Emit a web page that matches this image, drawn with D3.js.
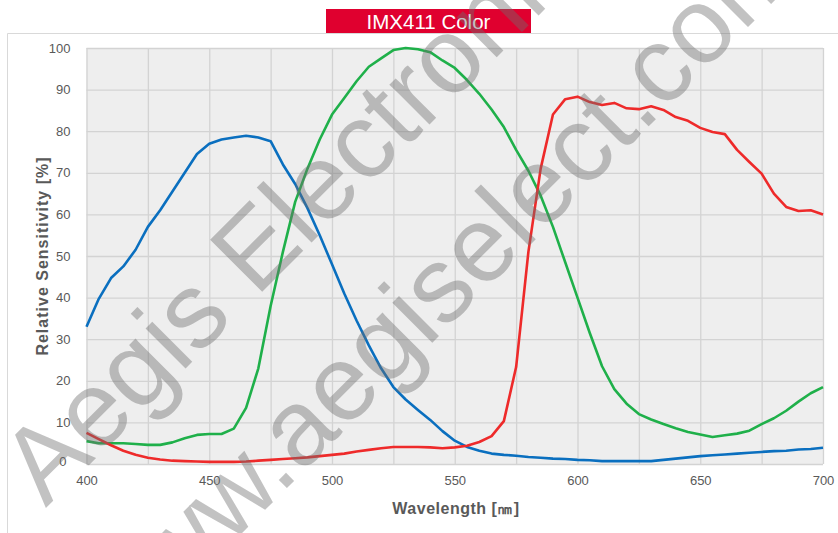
<!DOCTYPE html>
<html>
<head>
<meta charset="utf-8">
<script src="https://cdn.jsdelivr.net/npm/d3@7"></script>
<style>
  body { margin: 0; background: #fff; }
  svg { font-family: "Liberation Sans", Arial, sans-serif; }
</style>
</head>
<body>
<script>
// data, 5 nm steps
const wavelengths = d3.range(400, 701, 5);
const blue = [33, 39.7, 44.7, 47.5, 51.5, 57, 61, 65.5, 70, 74.5, 77, 78, 78.5, 78.9, 78.5, 77.6,
  72, 67.3, 61.5, 55, 48, 41, 34.5, 28.5, 23, 18.5, 15.5, 13, 10.6, 7.9, 5.6, 4.1, 3.2, 2.5, 2.2,
  2.0, 1.7, 1.5, 1.3, 1.2, 1.0, 0.9, 0.7, 0.7, 0.7, 0.7, 0.7, 1.0, 1.3, 1.6, 1.9, 2.1, 2.3, 2.5,
  2.7, 2.9, 3.1, 3.2, 3.5, 3.6, 3.9];
const green = [5.5, 5.0, 5.0, 5.0, 4.8, 4.6, 4.6, 5.2, 6.2, 7.0, 7.2, 7.2, 8.5, 13.5, 23, 38, 51,
  63, 71, 78, 84, 88, 92, 95.5, 97.5, 99.5, 100, 99.7, 99, 97, 95.2, 92.3, 89, 85.2, 81, 75.5,
  70.5, 64.5, 57, 48.5, 40, 31.5, 23.5, 18, 14.5, 12, 10.7, 9.6, 8.6, 7.7, 7.1, 6.5, 6.9, 7.3,
  8, 9.6, 11, 12.8, 15, 17, 18.5];
const red = [7.5, 6, 4.5, 3.2, 2.2, 1.5, 1.1, 0.8, 0.7, 0.6, 0.5, 0.5, 0.5, 0.6, 0.8, 1.0, 1.2,
  1.4, 1.6, 1.9, 2.2, 2.5, 3.0, 3.4, 3.8, 4.1, 4.1, 4.1, 4.0, 3.8, 4.0, 4.4, 5.3, 6.7, 10.3,
  23.3, 51, 71, 84, 87.7, 88.3, 87, 86.3, 86.8, 85.5, 85.3, 86, 85.1, 83.4, 82.5, 80.8, 79.8,
  79.3, 75.5, 72.6, 69.8, 65, 61.8, 60.8, 61, 60];
const xTicks = [400, 450, 500, 550, 600, 650, 700];
const yTicks = [0, 10, 20, 30, 40, 50, 60, 70, 80, 90, 100];

const w = 838;
const h = 533;
const pLeft = 86.5, pRight = 823, pTop = 48, pBottom = 464;

let svg = d3.select("body")
            .append("svg")
            .attr("width", w)
            .attr("height", h);

// outer frame
svg.append("path")
   .attr("d", "M7.5," + (h + 5) + "V33.5H" + (w + 5))
   .attr("fill", "none")
   .attr("stroke", "#d9d9d9");

// title box
svg.append("rect")
   .attr("x", 326).attr("y", 9)
   .attr("width", 205).attr("height", 24)
   .attr("fill", "#e0002f");
svg.append("text")
   .attr("x", 428.5).attr("y", 28.5)
   .attr("text-anchor", "middle")
   .attr("fill", "#fff")
   .style("font-size", "20.5px")
   .text("IMX411 Color");

let x = d3.scaleLinear().domain([400, 700]).range([pLeft, pRight]);
let y = d3.scaleLinear().domain([0, 100]).range([pBottom, pTop]);

svg.append("rect")
   .attr("x", pLeft).attr("y", pTop)
   .attr("width", pRight - pLeft).attr("height", pBottom - pTop)
   .attr("fill", "#eeeeee");

// grid
svg.append("g")
   .attr("transform", "translate(0," + pBottom + ")")
   .call(d3.axisBottom(x).tickValues(d3.range(400, 701, 25)).tickSize(-(pBottom - pTop)).tickFormat(""))
   .call(g => g.select(".domain").remove())
   .call(g => g.selectAll("line").attr("stroke", "#d3d3d3").attr("stroke-width", 1.3));
svg.append("g")
   .attr("transform", "translate(" + pLeft + ",0)")
   .call(d3.axisLeft(y).tickValues(yTicks).tickSize(-(pRight - pLeft)).tickFormat(""))
   .call(g => g.select(".domain").remove())
   .call(g => g.selectAll("line").attr("stroke", "#d3d3d3").attr("stroke-width", 1.3));

// tick labels
svg.append("g")
   .attr("transform", "translate(0," + pBottom + ")")
   .call(d3.axisBottom(x).tickValues(xTicks).tickSize(0).tickPadding(12))
   .call(g => g.select(".domain").remove())
   .call(g => g.selectAll("text").attr("fill", "#595959").style("font-size", "13px").attr("font-family", null));
svg.append("g")
   .attr("transform", "translate(" + pLeft + ",0)")
   .call(d3.axisLeft(y).tickValues(yTicks).tickSize(0).tickPadding(16))
   .call(g => g.select(".domain").remove())
   .call(g => g.selectAll("text").attr("fill", "#595959").style("font-size", "13px").attr("font-family", null))
   .call(g => g.selectAll(".tick").filter(d => d === 0).select("text").attr("dy", "0.1em").attr("dx", -4));

// axis titles
svg.append("text")
   .attr("transform", "translate(48," + 256 + ") rotate(-90)")
   .attr("text-anchor", "middle")
   .attr("fill", "#595959")
   .style("font-size", "16px")
   .style("font-weight", "bold")
   .style("letter-spacing", "1px")
   .text("Relative Sensitivity [%]");
svg.append("text")
   .attr("x", 456).attr("y", 514)
   .attr("text-anchor", "middle")
   .attr("fill", "#595959")
   .style("font-size", "16px")
   .style("font-weight", "bold")
   .style("letter-spacing", "0.5px")
   .text("Wavelength [㎚]");

// curves
let line = d3.line()
             .x((d, i) => x(wavelengths[i]))
             .y(d => y(d));
let series = [
  { values: blue, color: "#0a6fbf" },
  { values: green, color: "#1fb04a" },
  { values: red, color: "#ee2a2a" }
];
svg.selectAll(".curve")
   .data(series)
   .enter()
   .append("path")
   .attr("class", "curve")
   .attr("d", d => line(d.values))
   .attr("fill", "none")
   .attr("stroke", d => d.color)
   .attr("stroke-width", 2.6)
   .attr("stroke-linejoin", "round");

// watermark
let marks = [
  { text: "Aegis Electronic", cx: 317, cy: 237 },
  { text: "www.aegiselect.com", cx: 463, cy: 312 }
];
svg.selectAll(".wm")
   .data(marks)
   .enter()
   .append("text")
   .attr("class", "wm")
   .attr("transform", d => "translate(" + d.cx + "," + d.cy + ") rotate(-45)")
   .attr("text-anchor", "middle")
   .attr("fill", "#6e6e6e")
   .attr("fill-opacity", 0.42)
   .style("font-size", "107px")
   .text(d => d.text);
</script>
</body>
</html>
